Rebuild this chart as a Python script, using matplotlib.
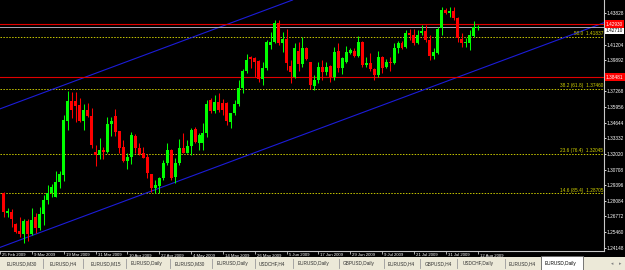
import matplotlib
matplotlib.use("Agg")
from matplotlib import pyplot as plt
from matplotlib import transforms
from matplotlib.patches import Rectangle
from matplotlib.lines import Line2D
import numpy as np

plt.rcParams['font.family'] = ['Liberation Sans', 'DejaVu Sans']

# EURUSD daily bars, bar 1 = 26 Feb 2009 ... bar 120 = 12 Aug 2009 (weekdays)
opens = [1.2871, 1.2709, 1.2717, 1.2613, 1.2555, 1.2529, 1.2641, 1.2529, 1.2669, 1.2577,
         1.2695, 1.2815, 1.2877, 1.2837, 1.2963, 1.3025, 1.3481, 1.3649, 1.3649, 1.3613,
         1.3481, 1.3571, 1.3521, 1.3221, 1.3193, 1.3235, 1.3221, 1.3453, 1.3521, 1.3395,
         1.3257, 1.3143, 1.3179, 1.3353, 1.3255, 1.3207, 1.3176, 1.3033, 1.2913, 1.2933,
         1.2997, 1.3123, 1.3235, 1.3005, 1.3123, 1.3249, 1.3213, 1.3269, 1.3409, 1.3297,
         1.3291, 1.3375, 1.3655, 1.3563, 1.3635, 1.3627, 1.3627, 1.3473, 1.3543, 1.3621,
         1.3753, 1.3899, 1.4019, 1.4005, 1.3983, 1.3829, 1.3921, 1.4117, 1.4145, 1.4299,
         1.4137, 1.4165, 1.3941, 1.3851, 1.4067, 1.3957, 1.4089, 1.3977, 1.3773, 1.3823,
         1.3935, 1.3893, 1.3941, 1.3845, 1.4067, 1.3921, 1.3977, 1.4047, 1.4067, 1.4025,
         1.4145, 1.3949, 1.3969, 1.3913, 1.3865, 1.4019, 1.3935, 1.3977, 1.3963, 1.4089,
         1.4137, 1.4103, 1.4221, 1.4201, 1.4137, 1.4215, 1.4235, 1.4159, 1.4025, 1.4053,
         1.4257, 1.4411, 1.4389, 1.4403, 1.4347, 1.4165, 1.4137, 1.4137, 1.4193, 1.4257]
highs = [1.2885, 1.2745, 1.2737, 1.2625, 1.2669, 1.2653, 1.2653, 1.2745, 1.2709, 1.2759,
         1.2857, 1.2938, 1.2949, 1.3059, 1.3059, 1.3529, 1.3733, 1.3725, 1.3725, 1.3669,
         1.3621, 1.3633, 1.3585, 1.3277, 1.3333, 1.3257, 1.3509, 1.3515, 1.3577, 1.3395,
         1.3319, 1.3213, 1.3389, 1.3369, 1.3297, 1.3257, 1.3199, 1.3033, 1.2983, 1.3005,
         1.3151, 1.3297, 1.3241, 1.3165, 1.3325, 1.3381, 1.3319, 1.3417, 1.3431, 1.3381,
         1.3459, 1.3655, 1.3669, 1.3697, 1.3711, 1.3661, 1.3641, 1.3549, 1.3655, 1.3823,
         1.3913, 1.4041, 1.4025, 1.4019, 1.3991, 1.3977, 1.4159, 1.4229, 1.4327, 1.4327,
         1.4229, 1.4249, 1.3991, 1.4137, 1.4145, 1.4181, 1.4103, 1.3977, 1.3865, 1.3977,
         1.3991, 1.3977, 1.3949, 1.4103, 1.4131, 1.4013, 1.4109, 1.4089, 1.4089, 1.4193,
         1.4153, 1.4013, 1.4047, 1.3921, 1.4069, 1.4025, 1.3997, 1.4013, 1.4131, 1.4153,
         1.4153, 1.4243, 1.4249, 1.4249, 1.4243, 1.4285, 1.4285, 1.4201, 1.4089, 1.4265,
         1.4439, 1.4425, 1.4439, 1.4439, 1.4355, 1.4215, 1.4173, 1.4243, 1.4319, 1.4285]
lows = [1.2675, 1.2675, 1.2591, 1.2541, 1.2507, 1.2451, 1.2473, 1.2521, 1.2541, 1.2563,
        1.2605, 1.2781, 1.2843, 1.2837, 1.2919, 1.2977, 1.3403, 1.3501, 1.3467, 1.3473,
        1.3403, 1.3509, 1.3249, 1.3101, 1.3159, 1.3157, 1.3213, 1.3353, 1.3353, 1.3213,
        1.3137, 1.3075, 1.3115, 1.3207, 1.3193, 1.3165, 1.3003, 1.2885, 1.2877, 1.2877,
        1.2983, 1.3109, 1.2983, 1.2955, 1.3109, 1.3207, 1.3207, 1.3193, 1.3291, 1.3235,
        1.3235, 1.3347, 1.3543, 1.3543, 1.3557, 1.3529, 1.3445, 1.3417, 1.3529, 1.3605,
        1.3717, 1.3885, 1.3921, 1.3845, 1.3809, 1.3781, 1.3907, 1.4081, 1.4137, 1.4117,
        1.4061, 1.3907, 1.3795, 1.3837, 1.3901, 1.3935, 1.3991, 1.3745, 1.3739, 1.3795,
        1.3823, 1.3865, 1.3809, 1.3823, 1.3893, 1.3873, 1.3963, 1.4041, 1.4019, 1.4013,
        1.3935, 1.3935, 1.3901, 1.3823, 1.3845, 1.3885, 1.3921, 1.3901, 1.3957, 1.4047,
        1.4081, 1.4089, 1.4159, 1.4117, 1.4125, 1.4201, 1.4145, 1.3991, 1.3997, 1.4041,
        1.4201, 1.4377, 1.4355, 1.4327, 1.4145, 1.4103, 1.4097, 1.4075, 1.4181, 1.4243]
closes = [1.2717, 1.2725, 1.2653, 1.2549, 1.2529, 1.2641, 1.2529, 1.2647, 1.2577, 1.2697,
          1.2815, 1.2877, 1.2927, 1.2963, 1.3031, 1.3487, 1.3649, 1.3571, 1.3607, 1.3481,
          1.3571, 1.3521, 1.3277, 1.3193, 1.3235, 1.3221, 1.3453, 1.3479, 1.3389, 1.3255,
          1.3143, 1.3179, 1.3361, 1.3249, 1.3199, 1.3171, 1.3039, 1.2913, 1.2941, 1.2997,
          1.3123, 1.3235, 1.3003, 1.3123, 1.3249, 1.3213, 1.3269, 1.3403, 1.3305, 1.3361,
          1.3375, 1.3621, 1.3563, 1.3635, 1.3571, 1.3571, 1.3481, 1.3543, 1.3621, 1.3753,
          1.3899, 1.3991, 1.3999, 1.3977, 1.3829, 1.3921, 1.4145, 1.4145, 1.4299, 1.4131,
          1.4165, 1.3963, 1.3893, 1.4089, 1.3957, 1.4089, 1.3999, 1.3781, 1.3823, 1.3935,
          1.3893, 1.3935, 1.3845, 1.4061, 1.3921, 1.4005, 1.4061, 1.4075, 1.4025, 1.4145,
          1.3949, 1.3969, 1.3913, 1.3865, 1.4019, 1.3927, 1.3977, 1.3963, 1.4089, 1.4137,
          1.4089, 1.4221, 1.4201, 1.4131, 1.4201, 1.4235, 1.4159, 1.4025, 1.4061, 1.4251,
          1.4411, 1.4383, 1.4403, 1.4341, 1.4173, 1.4137, 1.4145, 1.4201, 1.4271, 1.4271]

date_ticks = [0, 8, 16, 24, 32, 40, 48, 56, 64, 72, 80, 88, 96, 104, 112, 120]
date_labels = ["25 Feb 2009", "9 Mar 2009", "19 Mar 2009", "31 Mar 2009", "10 Apr 2009",
               "22 Apr 2009", "4 May 2009", "14 May 2009", "26 May 2009", "5 Jun 2009",
               "17 Jun 2009", "29 Jun 2009", "9 Jul 2009", "21 Jul 2009", "31 Jul 2009",
               "12 Aug 2009"]

price_ticks = [1.24148, 1.25460, 1.26772, 1.28084, 1.29396, 1.30708, 1.32020, 1.33332,
               1.34644, 1.35956, 1.37268, 1.39892, 1.41204, 1.43828]

fib_levels = [1.41837, 1.37460, 1.32045, 1.28705]
fib_names = ["50.0", "38.2 (61.8)", "23.6 (76.4)", "14.6 (85.4)"]

red_levels = [1.42930, 1.38481]
bid = closes[-1]

channel_upper = [(0.75, 1.3590), (73.5, 1.4495)]
channel_lower = [(2.75, 1.2451), (151.75, 1.4304)]

tabs = ["EURUSD,M30", "EURUSD,H4", "EURUSD,M15", "EURUSD,Daily", "EURUSD,M30",
        "EURUSD,Daily", "USDCHF,H4", "EURUSD,Daily", "GBPUSD,Daily", "EURUSD,H4",
        "GBPUSD,H4", "USDCHF,Daily", "EURUSD,H4"]
tab_x = [7, 50, 91, 131, 175, 217, 259, 298, 343, 388, 425, 463, 509]
tab_seps = [43, 83, 126, 170, 212, 255, 293, 339, 384, 420, 457, 505]
active_tab = "EURUSD,Daily"

W, H = 625, 270
fig = plt.figure(figsize=(W / 100, H / 100), dpi=100, facecolor='black')
ax = fig.add_axes([0, 19 / H, 604 / W, 251 / H])
ax.set_facecolor('black')
ax.set_xlim(0.75, 151.75)
ax.set_ylim(1.23866, 1.4495)

# candles
x = np.arange(1, len(opens) + 1)
o = np.array(opens)
c = np.array(closes)
col = np.where(c >= o, '#00ff00', '#ff0000')
ax.vlines(x, lows, highs, colors=col, lw=0.75, zorder=4)
ax.bar(x, np.maximum(np.abs(c - o), 0.0004), bottom=np.minimum(o, c), width=0.75,
       color=col, lw=0, zorder=5)

# channel
ax.axline(*channel_upper, color='#1c1cd8', lw=0.8, zorder=3)
ax.axline(*channel_lower, color='#1c1cd8', lw=0.8, zorder=3)

# fibo levels
up1 = transforms.offset_copy(ax.transData, fig=fig, y=0.6, units='points')
for lv, nm in zip(fib_levels, fib_names):
    ax.axhline(lv, color='#c8c800', lw=0.7, ls=(0, (1.5, 1.5)), zorder=2)
    ax.text(151.5, lv, f"{nm}  {lv:.5f}", transform=up1, ha='right', va='bottom',
            color='#d2d200', fontsize=3.4)

# horizontal lines and price boxes
right = transforms.blended_transform_factory(ax.transAxes, ax.transData)
for lv in red_levels:
    ax.axhline(lv, color='#e00000', lw=0.8, zorder=3)
    ax.text(1.0 + 2 / 604, lv, f"{lv:.5f}", transform=right, ha='left', va='center',
            color='white', fontsize=3.4, clip_on=False, zorder=10,
            bbox=dict(boxstyle='square,pad=0.25', fc='#ff0000', ec='none'))
ax.axhline(bid, color='#a8a8b8', lw=0.7, zorder=3)
down = transforms.offset_copy(right, fig=fig, y=-2.5, units='points')
ax.text(1.0 + 2 / 604, bid, f"{bid:.5f}", transform=down, ha='left', va='center',
        color='black', fontsize=3.4, clip_on=False, zorder=9,
        bbox=dict(boxstyle='square,pad=0.25', fc='white', ec='none'))

# axes
for s in ['top', 'left']:
    ax.spines[s].set_visible(False)
for s in ['right', 'bottom']:
    ax.spines[s].set_color('#c8c8c8')
    ax.spines[s].set_linewidth(0.8)
ax.yaxis.tick_right()
ax.set_yticks(price_ticks, [f"{v:.5f}" for v in price_ticks])
ax.tick_params(axis='y', colors='white', labelsize=3.4, length=1.5, width=0.6, pad=0.6)
ax.set_xticks(date_ticks)
ax.tick_params(axis='x', length=2, width=0.6, color='#c8c8c8', labelbottom=False)
bottom = transforms.blended_transform_factory(ax.transData, ax.transAxes)
for k, lab in zip(date_ticks, date_labels):
    ax.text(k + 0.5, -4.5 / 251, lab, transform=bottom, ha='left', va='center',
            color='white', fontsize=3.1, clip_on=False)

# tab bar
fig.add_artist(Rectangle((0, 0), 1, 13 / H, transform=fig.transFigure,
                         fc='#ece9d8', ec='none'))
ty = (H - 263.5) / H
for t, tx in zip(tabs, tab_x):
    fig.text(tx / W, ty, t, fontsize=3.4, color='#303030', va='center')
for sx in tab_seps:
    fig.add_artist(Line2D([sx / W, sx / W], [(H - 268) / H, (H - 259) / H],
                          transform=fig.transFigure, color='#9a9a9a', lw=0.6))
fig.add_artist(Rectangle((541 / W, 0), 42 / W, 14 / H, transform=fig.transFigure,
                         fc='white', ec='#606060', lw=0.6))
fig.text(545 / W, ty, active_tab, fontsize=3.4, color='black', va='center')
fig.text(611 / W, ty, '\u25c2', fontsize=3.4, color='#808080', va='center')
fig.text(619 / W, ty, '\u25b8', fontsize=3.4, color='#808080', va='center')

fig.savefig('out.png', dpi=100, facecolor='black')
